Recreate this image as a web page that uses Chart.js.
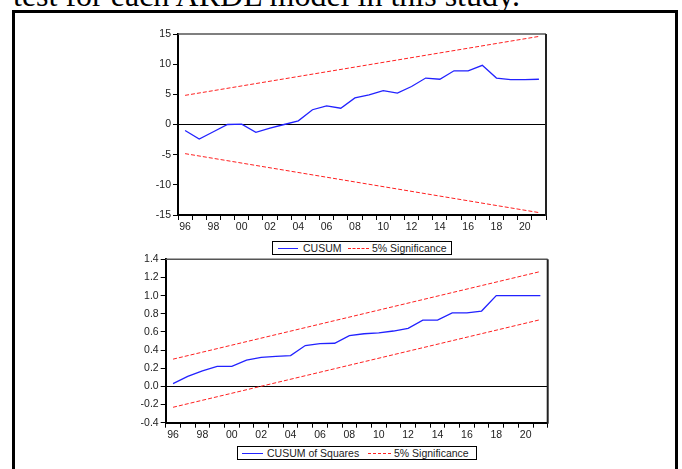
<!DOCTYPE html>
<html>
<head>
<meta charset="utf-8">
<script src="https://cdn.jsdelivr.net/npm/chart.js@4.4.1/dist/chart.umd.min.js"></script>
<style>
  html, body { margin: 0; padding: 0; background: #fff; overflow: hidden; }
  body { width: 682px; height: 469px; position: relative; }
  #caption { position: absolute; left: 13px; top: -21px; font-family: "Liberation Serif", "Times New Roman", serif; font-size: 32px; line-height: 32px; color: #000; white-space: nowrap; }
  #frame { position: absolute; left: 12px; top: 10px; width: 666px; height: 480px; border: 3px solid #000; box-sizing: border-box; }
  canvas { position: absolute; left: 0; }
  .leg { position: absolute; border: 1px solid #000; box-sizing: border-box; background: #fff; }
  .lt { position: absolute; font-family: "Liberation Sans", Arial, sans-serif; font-size: 10.5px; line-height: 12px; color: #222; white-space: nowrap; }
  .ls { position: absolute; height: 0; }
</style>
</head>
<body>
<div id="caption">test for each ARDL model in this study.</div>
<div id="frame"></div>
<canvas id="c1" width="682" height="240" style="top:0px"></canvas>
<canvas id="c2" width="682" height="229" style="top:240px"></canvas>

<div class="leg" style="left:272px; top:241px; width:180px; height:14px;"></div>
<div class="ls" style="left:278px; top:248px; width:20px; border-top:1.3px solid #2222ff;"></div>
<div class="lt" style="left:303px; top:242px;">CUSUM</div>
<div class="ls" style="left:348px; top:248px; width:21px; border-top:1px dashed #ff2020;"></div>
<div class="lt" style="left:372px; top:242px;">5% Significance</div>

<div class="leg" style="left:237px; top:446px; width:240px; height:14px;"></div>
<div class="ls" style="left:242px; top:453px; width:21px; border-top:1.3px solid #2222ff;"></div>
<div class="lt" style="left:267px; top:447px;">CUSUM of Squares</div>
<div class="ls" style="left:368px; top:453px; width:23px; border-top:1px dashed #ff2020;"></div>
<div class="lt" style="left:394px; top:447px;">5% Significance</div>

<script>
// ---- data ----
const years = [1996,1997,1998,1999,2000,2001,2002,2003,2004,2005,2006,2007,2008,2009,2010,2011,2012,2013,2014,2015,2016,2017,2018,2019,2020,2021];
const cusum = [-1.0,-2.4,-1.2,0.0,0.05,-1.3,-0.6,0.0,0.6,2.45,3.1,2.7,4.4,4.9,5.6,5.2,6.3,7.7,7.5,8.9,8.9,9.8,7.7,7.45,7.45,7.5];
const cusumSq = [0.03,0.11,0.17,0.22,0.22,0.29,0.32,0.33,0.34,0.45,0.47,0.475,0.56,0.58,0.59,0.61,0.64,0.73,0.73,0.81,0.81,0.83,1.0,1.0,1.0,1.0];
const bandYears = [1996, 2021];
const cusumUpper = [4.83, 14.6];
const cusumLower = [-4.83, -14.6];
const sqUpper = [0.30, 1.265];
const sqLower = [-0.23, 0.735];
const cusumTicks = [-15, -10, -5, 0, 5, 10, 15];
const sqTicks = [-0.4, -0.2, 0.0, 0.2, 0.4, 0.6, 0.8, 1.0, 1.2, 1.4];

// ---- helpers ----
const pts = (xs, ys) => xs.map((x, i) => ({ x: x, y: ys[i] }));
const tickFont = { family: '"Liberation Sans", Arial, sans-serif', size: 10.5 };
const BLUE = '#2222ff', RED = '#ff2020';

const frameLines = {
  id: 'frameLines',
  afterDraw(chart) {
    const { left, right, top, bottom } = chart.chartArea;
    const ctx = chart.ctx;
    ctx.save();
    ctx.strokeStyle = '#555';
    ctx.lineWidth = 1.5;
    ctx.beginPath(); ctx.moveTo(left, top); ctx.lineTo(right, top); ctx.stroke();
    ctx.strokeStyle = '#222';
    ctx.lineWidth = 2;
    ctx.beginPath(); ctx.moveTo(right, top); ctx.lineTo(right, bottom + 1); ctx.stroke();
    ctx.restore();
  }
};

function xScale() {
  return {
    type: 'linear',
    min: 1995.5,
    max: 2021.5,
    afterBuildTicks: (s) => {
      const t = [];
      for (let k = 0; k <= 52; k++) t.push({ value: 1995.5 + k * 0.5 });
      s.ticks = t;
    },
    afterFit: (s) => { s.height = 20; },
    ticks: {
      autoSkip: false, maxRotation: 0, minRotation: 0, padding: 1,
      font: tickFont, color: '#222',
      callback: (v) => (Number.isInteger(v) && v % 2 === 0) ? String(v % 100).padStart(2, '0') : ''
    },
    grid: {
      drawOnChartArea: false, tickLength: 5, tickWidth: 1,
      color: 'rgba(0,0,0,0)',
      tickColor: (ctx) => (ctx.tick && !Number.isInteger(ctx.tick.value)) ? '#000' : 'rgba(0,0,0,0)'
    },
    border: { color: '#000', width: 2 }
  };
}

function yScale(min, max, tickVals, fmt) {
  return {
    type: 'linear',
    min: min, max: max,
    afterBuildTicks: (s) => { s.ticks = tickVals.map(v => ({ value: v })); },
    afterFit: (s) => { s.width = 40; },
    ticks: { font: tickFont, color: '#222', padding: 2, callback: fmt },
    grid: {
      drawOnChartArea: true, tickLength: 5, tickWidth: 1, lineWidth: 1,
      color: (ctx) => (ctx.tick && Math.abs(ctx.tick.value) < 1e-9) ? '#000' : 'rgba(0,0,0,0)',
      tickColor: '#000'
    },
    border: { color: '#000', width: 2 }
  };
}

function lineDs(data, color, dashed) {
  return {
    data: data,
    borderColor: color,
    borderWidth: dashed ? 1 : 1.3,
    borderDash: dashed ? [4, 2] : [],
    pointRadius: 0,
    fill: false,
    tension: 0
  };
}

const common = (padding, ys) => ({
  responsive: false,
  animation: false,
  devicePixelRatio: 1,
  layout: { padding: padding },
  plugins: { legend: { display: false }, tooltip: { enabled: false } },
  scales: { x: xScale(), y: ys }
});

new Chart(document.getElementById('c1'), {
  type: 'line',
  data: {
    datasets: [
      lineDs(pts(years, cusum), BLUE, false),
      lineDs(pts(bandYears, cusumUpper), RED, true),
      lineDs(pts(bandYears, cusumLower), RED, true)
    ]
  },
  options: common({ left: 138, right: 136, top: 34, bottom: 5 },
    yScale(-15, 15, cusumTicks, (v) => String(v))),
  plugins: [frameLines]
});

new Chart(document.getElementById('c2'), {
  type: 'line',
  data: {
    datasets: [
      lineDs(pts(years, cusumSq), BLUE, false),
      lineDs(pts(bandYears, sqUpper), RED, true),
      lineDs(pts(bandYears, sqLower), RED, true)
    ]
  },
  options: common({ left: 125.7, right: 134.3, top: 19.3, bottom: 26.3 },
    yScale(-0.4, 1.4, sqTicks, (v) => Number(v).toFixed(1))),
  plugins: [frameLines]
});
</script>
</body>
</html>
